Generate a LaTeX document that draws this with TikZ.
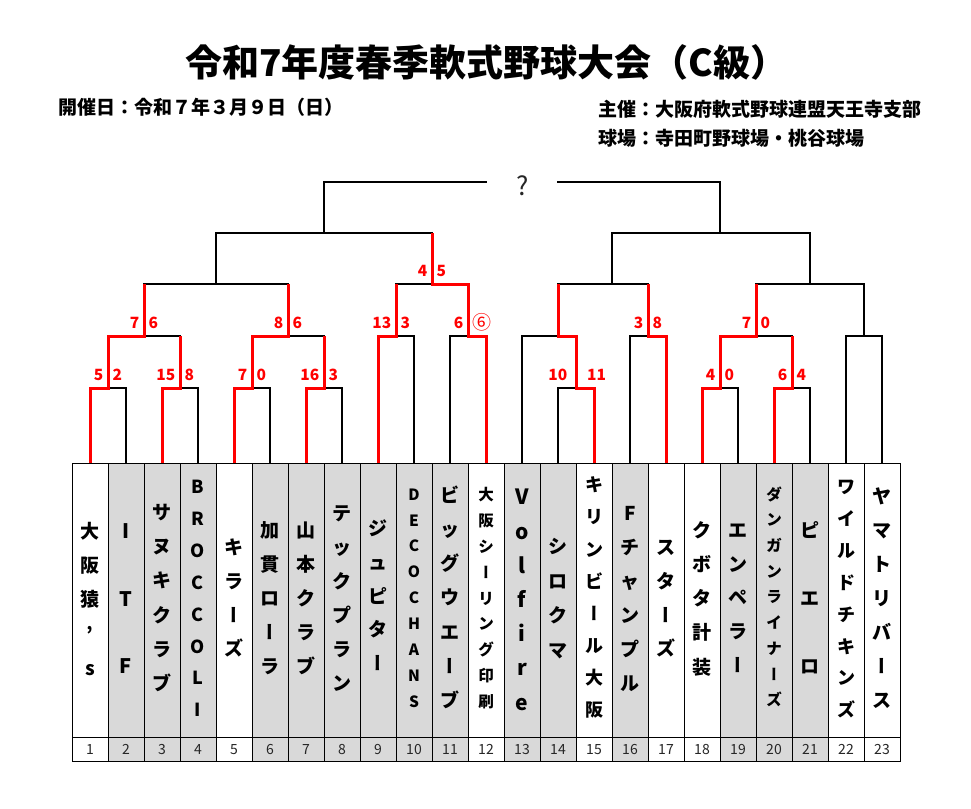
\documentclass[tikz,border=0pt]{standalone}
\usepackage{fontspec}
\setmainfont{Noto Sans CJK JP}
\newfontfamily\vjp[RawFeature=+vert]{Noto Sans CJK JP}
\newcommand\VB{{\vjp ー}}
\definecolor{cellgray}{HTML}{D9D9D9}
\definecolor{scred}{HTML}{FF0000}
\tikzset{
  blk/.style={line width=2pt, black, line join=miter},
  redl/.style={line width=3pt, scred, line join=miter},
  cellbox/.style={draw=black, line width=0.9pt, inner sep=0pt, anchor=north west, minimum width=36pt},
  sc/.style={text=scred, inner sep=0pt, font=\bfseries\fontsize{15.5}{15.5}\selectfont},
  numtxt/.style={inner sep=0pt, anchor=base, font=\fontsize{14}{14}\selectfont, text=black!85},
  nmtxt/.style={inner sep=0pt, anchor=base, font=\bfseries\fontsize{#1}{#1}\selectfont},
  head/.style={inner sep=0pt, anchor=base west, font=\bfseries\fontsize{#1}{#1}\selectfont},
}
\newcommand\vname[6]{%
  \foreach \cc [count=\k from 0] in {#5}{%
    \pgfmathsetmacro\yy{#2+\k*#3+0.38*#4}%
    \node[nmtxt=#4] (#6-\k) at (#1,\yy) {\cc};%
  }}
\newcommand\score[3]{%
  \path (m#1) ++(-4.5,-7.5) node[sc, anchor=base east] (s#1l) {#2};
  \path (m#1) ++(4.5,-7.5) node[sc, anchor=base west] (s#1r) {#3};}
\begin{document}
\begin{tikzpicture}[x=1pt,y=-1pt]
\path[use as bounding box] (0,0) rectangle (971,808);

% titles
\node[head=37] (title) at (185,76) {令和7年度春季軟式野球大会（C級）};
\node[head=19] (date) at (58,114.7) {開催日：令和７年３月９日（日）};
\node[head=19] (host) at (598,116) {主催：大阪府軟式野球連盟天王寺支部};
\node[head=19] (field) at (598,145.4) {球場：寺田町野球場・桃谷球場};

% table
\foreach \i/\f in {1/white,2/cellgray,3/cellgray,4/cellgray,5/white,6/cellgray,7/cellgray,8/cellgray,9/cellgray,10/cellgray,11/cellgray,12/white,13/cellgray,14/cellgray,15/white,16/cellgray,17/white,18/white,19/cellgray,20/cellgray,21/cellgray,22/white,23/white}{
  \node[cellbox, fill=\f, minimum height=274pt] (c\i) at ({36+36*\i},463) {};
  \node[cellbox, fill=\f, minimum height=24pt] (n\i) at ({36+36*\i},737) {};
  \node[numtxt] (nt\i) at ({54+36*\i},754) {\i};
}

% team names
\vname{90}{531}{34.3}{19}{大,阪,猿,’,s}{t1}
\vname{126}{531}{67.5}{20}{I,T,F}{t2}
\vname{162}{512}{34.3}{19}{サ,ヌ,キ,ク,ラ,ブ}{t3}
\vname{198}{486.7}{31.9}{18}{B,R,O,C,C,O,L,I}{t4}
\vname{234}{547}{33.9}{19}{キ,ラ,\VB,ズ}{t5}
\vname{270}{530}{34.1}{19}{加,貫,ロ,\VB,ラ}{t6}
\vname{306}{530}{34}{19}{山,本,ク,ラ,ブ}{t7}
\vname{342}{513}{34}{19}{テ,ッ,ク,プ,ラ,ン}{t8}
\vname{378}{528.3}{33.8}{19}{ジ,ュ,ピ,タ,\VB}{t9}
\vname{414}{494.3}{25.9}{15.5}{D,E,C,O,C,H,A,N,S}{t10}
\vname{450}{495}{34.2}{19}{ビ,ッ,グ,ウ,エ,\VB,ブ}{t11}
\vname{486}{495}{25.8}{15.5}{大,阪,シ,\VB,リ,ン,グ,印,刷}{t12}
\vname{522}{497}{34.2}{21}{V,o,l,f,i,r,e}{t13}
\vname{558}{546.7}{34.4}{19}{シ,ロ,ク,マ}{t14}
\vname{594}{485}{32.1}{18}{キ,リ,ン,ビ,\VB,ル,大,阪}{t15}
\vname{630}{513.3}{34}{19}{F,チ,ャ,ン,プ,ル}{t16}
\vname{666}{547}{33.9}{19}{ス,タ,\VB,ズ}{t17}
\vname{702}{530}{34.2}{19}{ク,ボ,タ,計,装}{t18}
\vname{738}{530}{33.8}{19}{エ,ン,ペ,ラ,\VB}{t19}
\vname{774}{494.3}{25.7}{15.5}{ダ,ン,ガ,ン,ラ,イ,ナ,\VB,ズ}{t20}
\vname{810}{530}{68.3}{19}{ピ,エ,ロ}{t21}
\vname{846}{486.7}{31.9}{18}{ワ,イ,ル,ド,チ,キ,ン,ズ}{t22}
\vname{882}{496.7}{33.9}{19}{ヤ,マ,ト,リ,バ,\VB,ス}{t23}

% match points
\coordinate (mA) at (108,388);
\coordinate (mB) at (180,388);
\coordinate (mC) at (144,336);
\coordinate (mD) at (252,388);
\coordinate (mE) at (324,388);
\coordinate (mF) at (288,336);
\coordinate (mG) at (216,284);
\coordinate (mH) at (396,336);
\coordinate (mI) at (468,336);
\coordinate (mJ) at (432,284);
\coordinate (mK) at (324,233);
\coordinate (mL) at (576,388);
\coordinate (mM) at (558,336);
\coordinate (mN) at (648,336);
\coordinate (mO) at (612,284);
\coordinate (mP) at (720,388);
\coordinate (mQ) at (792,388);
\coordinate (mR) at (756,336);
\coordinate (mS) at (864,336);
\coordinate (mT) at (810,284);
\coordinate (mU) at (720,233);
\coordinate (mFL) at (487,182);
\coordinate (mFR) at (557,182);

% black bracket
\draw[blk]
  (c1.north) |- (mA) (c2.north) |- (mA)
  (c3.north) |- (mB) (c4.north) |- (mB)
  (mA) |- (mC) (mB) |- (mC)
  (c5.north) |- (mD) (c6.north) |- (mD)
  (c7.north) |- (mE) (c8.north) |- (mE)
  (mD) |- (mF) (mE) |- (mF)
  (mC) |- (mG) (mF) |- (mG)
  (c9.north) |- (mH) (c10.north) |- (mH)
  (c11.north) |- (mI) (c12.north) |- (mI)
  (mH) |- (mJ) (mI) |- (mJ)
  (mG) |- (mK) (mJ) |- (mK)
  (mK) |- (mFL)
  (c14.north) |- (mL) (c15.north) |- (mL)
  (c13.north) |- (mM) (mL) |- (mM)
  (c16.north) |- (mN) (c17.north) |- (mN)
  (mM) |- (mO) (mN) |- (mO)
  (c18.north) |- (mP) (c19.north) |- (mP)
  (c20.north) |- (mQ) (c21.north) |- (mQ)
  (mP) |- (mR) (mQ) |- (mR)
  (c22.north) |- (mS) (c23.north) |- (mS)
  (mR) |- (mT) (mS) |- (mT)
  (mO) |- (mU) (mT) |- (mU)
  (mU) |- (mFR);

% winners in red
\draw[redl] (c1.north) |- (mA) |- (mC) -- (mC |- mG);
\draw[redl] (c3.north) |- (mB) -- (mB |- mC);
\draw[redl] (c5.north) |- (mD) |- (mF) -- (mF |- mG);
\draw[redl] (c7.north) |- (mE) -- (mE |- mF);
\draw[redl] (c9.north) |- (mH) -- (mH |- mJ);
\draw[redl] (c12.north) |- (mI) |- (mJ) -- (mJ |- mK);
\draw[redl] (c15.north) |- (mL) |- (mM) -- (mM |- mO);
\draw[redl] (c17.north) |- (mN) -- (mN |- mO);
\draw[redl] (c18.north) |- (mP) |- (mR) -- (mR |- mT);
\draw[redl] (c20.north) |- (mQ) -- (mQ |- mR);

% final
\node[inner sep=0pt, anchor=base, font=\fontsize{26}{26}\selectfont, text=black!85] (q) at (522.5,195.7) {?};

% scores
\score{A}{5}{2}
\score{B}{15}{8}
\score{D}{7}{0}
\score{E}{16}{3}
\score{P}{4}{0}
\score{Q}{6}{4}
\score{C}{7}{6}
\score{F}{8}{6}
\score{H}{13}{3}
\score{I}{6}{\raisebox{-1pt}{\mdseries\fontsize{19}{19}\selectfont ⑥}}
\score{N}{3}{8}
\score{R}{7}{0}
\score{J}{4}{5}
\path (mL) ++(-8.5,-7.5) node[sc, anchor=base east] (sLl) {10};
\path (mL) ++(11,-7.5) node[sc, anchor=base west] (sLr) {11};
\end{tikzpicture}
\end{document}
